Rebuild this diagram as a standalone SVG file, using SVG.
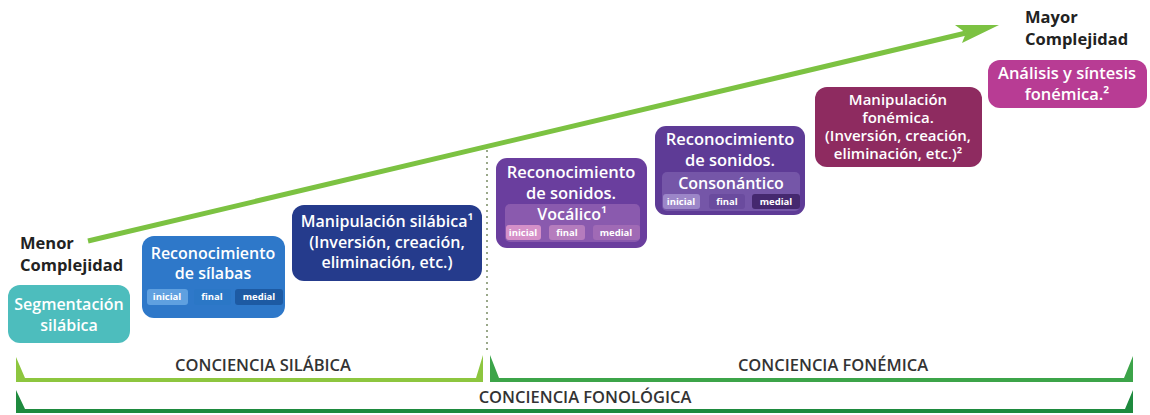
<svg xmlns="http://www.w3.org/2000/svg" width="1150" height="415" viewBox="0 0 1150 415">
<style>
.t{font-family:"Open Sans","Noto Sans",sans-serif;font-weight:600;fill:#fff;text-anchor:middle}
.b{font-size:16.5px}
.m{font-size:16px}
.s{font-size:15px}
.p{font-size:9.5px;font-weight:700}
.lbl{font-family:"Open Sans","Noto Sans",sans-serif;font-weight:700;fill:#222;font-size:16.5px}
.br{font-family:"Open Sans","Noto Sans",sans-serif;font-weight:600;fill:#333;font-size:16.5px;text-anchor:middle}
</style>
<rect width="1150" height="415" fill="#fff"/>
<g id="connectors">
<line x1="88" y1="241" x2="966" y2="33" stroke="#7cc242" stroke-width="5"/>
<polygon points="999,25 955,25 966,33 962,43" fill="#7cc242"/>
<line x1="487" y1="150" x2="487" y2="354" stroke="#9aa88a" stroke-width="2" stroke-dasharray="2,4"/>
</g>
<g id="menor"><text class="lbl" x="20" y="249">Menor</text><text class="lbl" x="20" y="271">Complejidad</text></g>
<g id="mayor"><text class="lbl" x="1025" y="23">Mayor</text><text class="lbl" x="1025" y="45">Complejidad</text></g>
<g id="n1">
<rect x="8" y="285" width="122" height="58" rx="12" fill="#4dbdbd"/>
<text class="t m" x="69" y="310">Segmentación</text>
<text class="t m" x="69" y="331">silábica</text>
</g>
<g id="n2">
<rect x="142" y="236" width="143" height="82" rx="12" fill="#2e78c9"/>
<text class="t m" x="213" y="259">Reconocimiento</text>
<text class="t m" x="213" y="279">de sílabas</text>
<rect x="147" y="289" width="41" height="16" rx="3" fill="#5fa0e0"/>
<rect x="194" y="289" width="37" height="16" rx="3" fill="#2b77c6"/>
<rect x="235" y="289" width="48" height="16" rx="3" fill="#1d5aa3"/>
<text class="t p" x="167" y="300">inicial</text>
<text class="t p" x="212" y="300">final</text>
<text class="t p" x="259" y="300">medial</text>
</g>
<g id="n3">
<rect x="292" y="205" width="190" height="76" rx="12" fill="#253b8c"/>
<text class="t m" x="387" y="227">Manipulación silábica¹</text>
<text class="t m" x="387" y="248">(Inversión, creación,</text>
<text class="t m" x="387" y="268">eliminación, etc.)</text>
</g>
<g id="n4">
<rect x="496" y="158" width="151" height="90" rx="11" fill="#6a3e9e"/>
<text class="t b" x="571" y="178">Reconocimiento</text>
<text class="t b" x="571" y="199">de sonidos.</text>
<rect x="505" y="204" width="135" height="38" rx="5" fill="#8a5aae"/>
<text class="t m" x="572" y="220">Vocálico¹</text>
<rect x="506" y="225" width="35" height="15" rx="3" fill="#d590c8"/>
<rect x="549" y="225" width="36" height="15" rx="3" fill="#b57cbd"/>
<rect x="593" y="225" width="47" height="15" rx="3" fill="#a06ab5"/>
<text class="t p" x="523" y="236">inicial</text>
<text class="t p" x="567" y="236">final</text>
<text class="t p" x="616" y="236">medial</text>
</g>
<g id="n5">
<rect x="655" y="126" width="150" height="89" rx="11" fill="#5e3b96"/>
<text class="t b" x="730" y="145">Reconocimiento</text>
<text class="t b" x="730" y="166">de sonidos.</text>
<rect x="662" y="172" width="138" height="39" rx="5" fill="#7556a8"/>
<text class="t m" x="731" y="189">Consonántico</text>
<rect x="663" y="194" width="37" height="15" rx="3" fill="#9c86c8"/>
<rect x="709" y="194" width="36" height="15" rx="3" fill="#6a4b9e"/>
<rect x="752" y="194" width="48" height="15" rx="3" fill="#45286f"/>
<text class="t p" x="681" y="205">inicial</text>
<text class="t p" x="727" y="205">final</text>
<text class="t p" x="776" y="205">medial</text>
</g>
<g id="n6">
<rect x="815" y="87" width="167" height="80" rx="12" fill="#8e2b60"/>
<text class="t s" x="898" y="105">Manipulación</text>
<text class="t s" x="898" y="123">fonémica.</text>
<text class="t s" x="898" y="141">(Inversión, creación,</text>
<text class="t s" x="898" y="159">eliminación, etc.)²</text>
</g>
<g id="n7">
<rect x="988" y="60" width="159" height="48" rx="12" fill="#b83c94"/>
<text class="t b" x="1067" y="79">Análisis y síntesis</text>
<text class="t b" x="1067" y="100">fonémica.²</text>
</g>
<g id="silabica">
<path d="M16,357 L16,382 L483,382 L483,355 L476,378 L25,378 Z" fill="#8dc63f"/>
<text class="br" x="263" y="371">CONCIENCIA SILÁBICA</text>
</g>
<g id="fonemica">
<path d="M490,355 L490,382 L1133,382 L1133,356 L1124,378 L499,378 Z" fill="#3ca449"/>
<text class="br" x="833" y="371">CONCIENCIA FONÉMICA</text>
</g>
<g id="fonologica">
<path d="M16,390 L16,413 L1133,413 L1133,390 L1125,409 L25,409 Z" fill="#1e8a3e"/>
<text class="br" x="585" y="403">CONCIENCIA FONOLÓGICA</text>
</g>
</svg>
